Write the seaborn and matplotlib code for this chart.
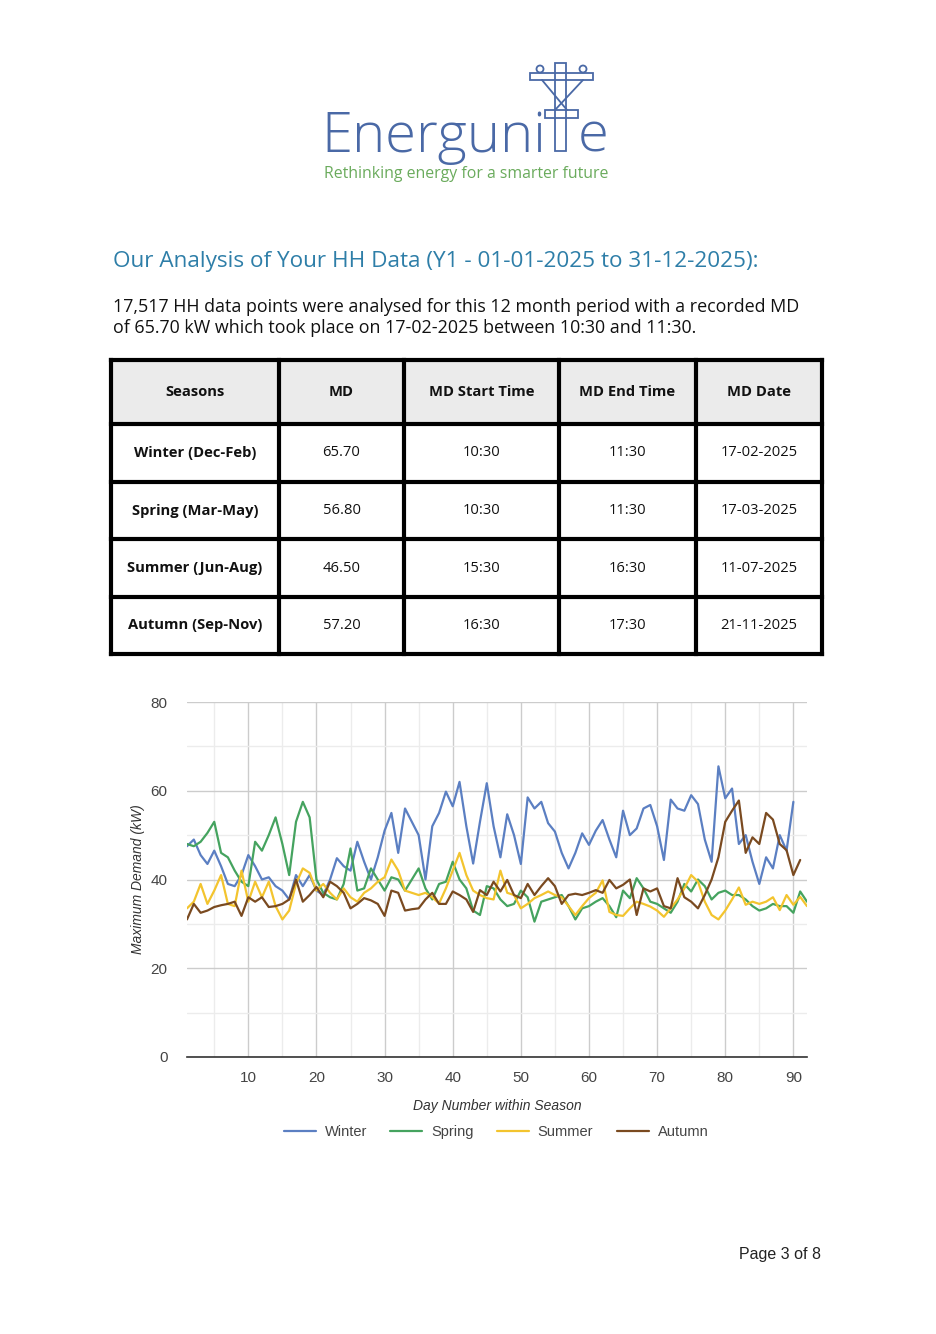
import numpy as np
import pandas as pd
import matplotlib
matplotlib.use("Agg")
import matplotlib.pyplot as plt
from matplotlib.lines import Line2D
from matplotlib.patches import Rectangle, Circle
import seaborn as sns

# ---------------- data ----------------
seasons = ["Winter", "Spring", "Summer", "Autumn"]
colors = ["#5b7fc2", "#45a35f", "#f3c42e", "#7a4a20"]

winter = [47.5, 49, 45.5, 43.5, 46.5, 43, 39, 38.5, 41, 45.5, 43, 40, 40.5, 38.5, 37.5,
          35.5, 41, 38.5, 41, 37.5, 36.5, 40, 44.8, 43, 42, 48.5, 44, 40, 45, 51,
          55, 46, 56, 53, 50, 40, 52, 55, 59.8, 56.5, 62, 52, 43.6, 53, 61.7,
          52, 45, 54.7, 50, 43.5, 58.5, 56, 57.5, 52.7, 50.8, 46, 42.5, 46, 50.4, 47.8,
          51, 53.4, 49, 45, 55.5, 50, 51.5, 56, 56.8, 52, 44.4, 58, 56, 55.5, 59,
          57, 49, 44, 65.5, 58.3, 60.5, 48, 50, 44, 39, 45, 42.5, 50, 46.5, 57.5]
spring = [48, 47.5, 48.5, 50.5, 53, 46, 45, 42, 39.5, 38.5, 48.5, 46.5, 50, 54, 48,
          41, 53, 57.5, 54, 40, 37, 36, 35.5, 39, 47, 37.5, 38, 42.5, 40, 37.5,
          40.5, 40, 37.5, 40, 42.5, 38, 35.5, 39, 39.5, 44, 40, 38, 33, 32, 38.5,
          38, 35.5, 34, 34.5, 37.5, 36, 30.5, 35, 35.5, 36, 36.5, 34, 31, 33.5, 34,
          35, 35.8, 34, 31.5, 37.5, 35.8, 40.3, 38, 35, 34.5, 33.5, 32.5, 35, 39, 37.3,
          40, 38.5, 35.5, 37, 37.5, 36.5, 36.5, 35.5, 34, 33, 33.5, 34.5, 34, 34, 32.5,
          37.3, 35]
summer = [33.5, 35, 39, 34.5, 37.5, 41, 34.5, 34, 42, 35, 39.5, 36, 39.5, 34, 31,
          33, 39, 42.5, 41.5, 37.5, 39, 37, 35.5, 38, 36, 35, 37, 38, 39.5, 40.5,
          44.5, 42, 37.5, 37, 36.5, 37, 36, 34.6, 38, 42, 46, 41, 37.5, 36.5, 35.8,
          35.5, 42, 37, 36.5, 33.5, 34.5, 35.8, 36.5, 37.3, 36.5, 36, 34, 32, 34, 35.8,
          37, 39.8, 32.7, 32, 31.8, 33.5, 35, 34.5, 33.9, 33, 31.6, 33.5, 35.5, 38, 41,
          39.5, 35, 32, 31, 33, 35.5, 38.2, 34.3, 35, 34.5, 35, 36, 33.1, 36.5, 34.3,
          36.1, 34]
autumn = [31, 34.5, 32.5, 33, 33.8, 34.2, 34.5, 35, 31.8, 36, 35, 36, 33.8, 34, 34.5,
          35.5, 40, 35, 36.5, 38.3, 36, 39.5, 38.5, 37, 33.5, 34.5, 35.8, 35.3, 34.5, 31.8,
          37.5, 37, 33, 33.3, 33.5, 35.5, 37, 34.5, 34.5, 37.3, 36.5, 35.5, 32.7, 37.6, 36.5,
          39.5, 37.3, 39.9, 36.5, 35.8, 39, 36.5, 38.5, 40.3, 38.5, 34.5, 36.5, 36.8, 36.5, 37,
          37.6, 37, 39.9, 38, 38.8, 40, 32, 38, 37.3, 38, 34, 33.5, 40.3, 36, 35,
          33.5, 36.5, 40, 45, 53, 55.5, 57.8, 46, 49.5, 48, 55, 53.5, 48, 46.6, 41,
          44.4]

table_cols = ["Seasons", "MD", "MD Start Time", "MD End Time", "MD Date"]
table_rows = [
    ["Winter (Dec-Feb)", "65.70", "10:30", "11:30", "17-02-2025"],
    ["Spring (Mar-May)", "56.80", "10:30", "11:30", "17-03-2025"],
    ["Summer (Jun-Aug)", "46.50", "15:30", "16:30", "11-07-2025"],
    ["Autumn (Sep-Nov)", "57.20", "16:30", "17:30", "21-11-2025"],
]
y_ticks = [0, 20, 40, 60, 80]
x_ticks = [10, 20, 30, 40, 50, 60, 70, 80, 90]

frames = []
for name, vals in zip(seasons, [winter, spring, summer, autumn]):
    frames.append(pd.DataFrame({"day": np.arange(1, len(vals) + 1),
                                "md": vals, "season": name}))
df = pd.concat(frames, ignore_index=True)

# ---------------- figure ----------------
sns.set_theme(style="white")
plt.rcParams["font.family"] = ["Open Sans", "DejaVu Sans"]

W, H = 936, 1334
fig = plt.figure(figsize=(W / 100, H / 100), dpi=100)
fig.patch.set_facecolor("white")

# overlay axes in pixel coordinates for page elements
pg = fig.add_axes([0, 0, 1, 1])
pg.set_xlim(0, W)
pg.set_ylim(H, 0)
pg.axis("off")

logo_c = "#4a69a6"
pg.text(321, 152, "Energuni", fontsize=40.5, color=logo_c, fontweight="light",
        ha="left", va="baseline", family=["Open Sans"])
pg.text(578, 152, "e", fontsize=40.5, color=logo_c, fontweight="light",
        ha="left", va="baseline", family=["Open Sans"])
# pylon "t"
lw = 1.3
pg.add_patch(Rectangle((555, 63), 11, 88, fill=False, ec=logo_c, lw=lw))
pg.add_patch(Rectangle((530, 73), 63, 7, fill=False, ec=logo_c, lw=lw))
pg.add_patch(Rectangle((545, 110), 33, 8, fill=False, ec=logo_c, lw=lw))
pg.add_patch(Circle((540, 69), 3.5, fill=False, ec=logo_c, lw=lw))
pg.add_patch(Circle((583, 69), 3.5, fill=False, ec=logo_c, lw=lw))
pg.plot([542, 567], [80, 110], color=logo_c, lw=lw)
pg.plot([583, 555], [80, 110], color=logo_c, lw=lw)
pg.text(466, 174, "Rethinking energy for a smarter future", fontsize=11.4,
        color="#6aab5c", ha="center", va="center", family=["Open Sans"])

pg.text(113, 262, "Our Analysis of Your HH Data (Y1 - 01-01-2025 to 31-12-2025):",
        fontsize=16.2, color="#2e7ea8", ha="left", va="center")
pg.text(113, 307, "17,517 HH data points were analysed for this 12 month period with a recorded MD",
        fontsize=12.9, color="#111111", ha="left", va="center")
pg.text(113, 328, "of 65.70 kW which took place on 17-02-2025 between 10:30 and 11:30.",
        fontsize=12.9, color="#111111", ha="left", va="center")

# table
xs = [111, 279, 404, 559, 696, 822]
ys = [360, 424, 482, 539, 597, 654]
pg.add_patch(Rectangle((xs[0], ys[0]), xs[-1] - xs[0], ys[1] - ys[0],
                       fc="#ebebeb", ec="none", zorder=1))
for x in xs:
    pg.plot([x, x], [ys[0], ys[-1]], color="black", lw=3, zorder=3,
            solid_capstyle="projecting")
for y in ys:
    pg.plot([xs[0], xs[-1]], [y, y], color="black", lw=3, zorder=3,
            solid_capstyle="projecting")
for j, col in enumerate(table_cols):
    cx = (xs[j] + xs[j + 1]) / 2
    pg.text(cx, (ys[0] + ys[1]) / 2, col, fontsize=10.6, fontweight="bold",
            ha="center", va="center", color="#111111")
for i, row in enumerate(table_rows):
    cy = (ys[i + 1] + ys[i + 2]) / 2
    for j, val in enumerate(row):
        cx = (xs[j] + xs[j + 1]) / 2
        pg.text(cx, cy, val, fontsize=10.6, fontweight="bold" if j == 0 else "normal",
                ha="center", va="center", color="#111111")

pg.text(821, 1254, "Page 3 of 8", fontsize=11.5, color="#222222", ha="right",
        va="center", family=["Liberation Sans"])

# ---------------- chart ----------------
ax = fig.add_axes([187 / W, 1 - 1057 / H, 620 / W, 355 / H])
ax.set_facecolor("none")
sns.lineplot(data=df, x="day", y="md", hue="season", palette=colors,
             hue_order=seasons, linewidth=1.6, ax=ax, legend=False, zorder=3)
ax.set_xlim(1, 92)
ax.set_ylim(0, 80)
ax.set_xticks(x_ticks)
ax.set_yticks(y_ticks)
ax.set_xticks([5, 15, 25, 35, 45, 55, 65, 75, 85], minor=True)
ax.set_yticks([10, 30, 50, 70], minor=True)
ax.grid(which="major", color="#cccccc", lw=1.0)
ax.grid(which="minor", color="#ececec", lw=1.0)
ax.set_axisbelow(True)
for s in ["top", "right", "left"]:
    ax.spines[s].set_visible(False)
ax.spines["bottom"].set_color("#333333")
ax.spines["bottom"].set_linewidth(1.2)
ax.tick_params(which="both", length=0, labelsize=11, colors="#444444",
               labelfontfamily="Liberation Sans")
ax.tick_params(axis="y", pad=14)
ax.tick_params(axis="x", pad=10)
ax.set_xlabel("Day Number within Season", fontsize=10, style="italic",
              color="#333333", family=["Liberation Sans"], labelpad=10)
ax.set_ylabel("Maximum Demand (kW)", fontsize=10, style="italic",
              color="#333333", family=["Liberation Sans"], labelpad=4)

handles = [Line2D([0], [0], color=c, lw=1.6) for c in colors]
fig.legend(handles, seasons, loc="center", bbox_to_anchor=(496 / W, 1 - 1132 / H),
           ncol=4, frameon=False, handlelength=2.2, columnspacing=1.6,
           handletextpad=0.6,
           prop={"family": "Liberation Sans", "size": 10.5}, labelcolor="#444444")

fig.savefig("out.png", dpi=100, facecolor="white")
